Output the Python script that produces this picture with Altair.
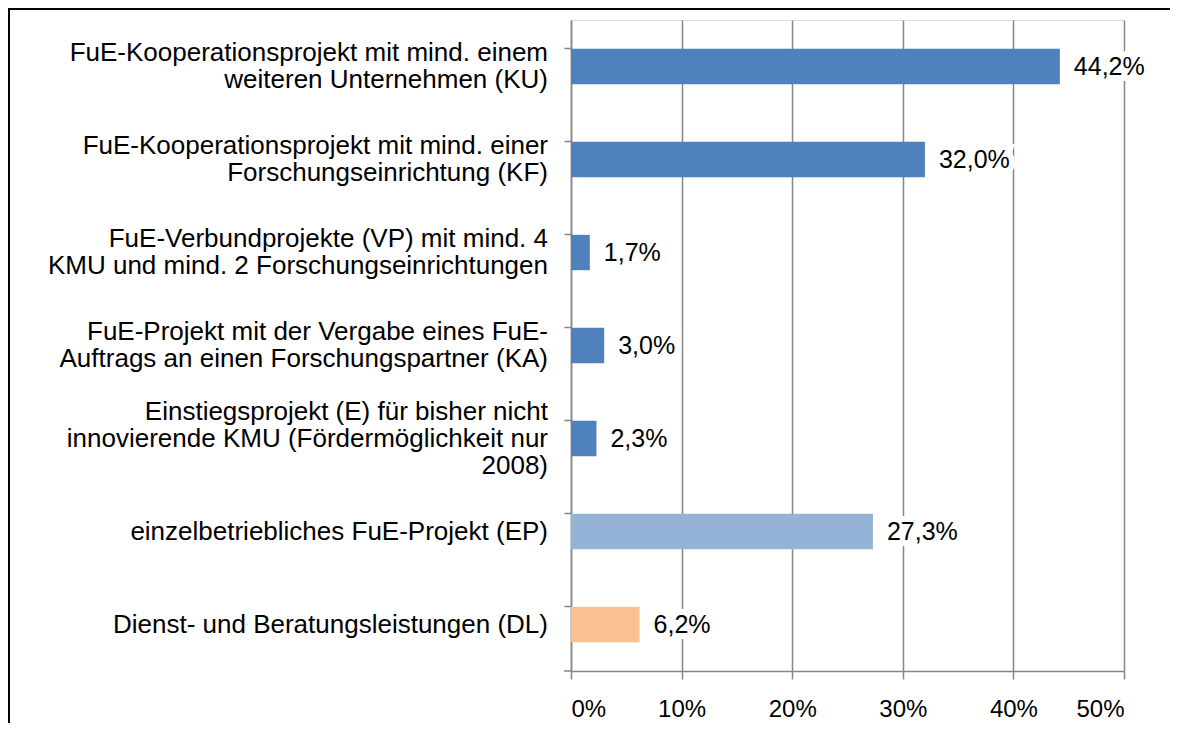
import altair as alt
import pandas as pd

categories = [
    "FuE-Kooperationsprojekt mit mind. einem\nweiteren Unternehmen (KU)",
    "FuE-Kooperationsprojekt mit mind. einer\nForschungseinrichtung (KF)",
    "FuE-Verbundprojekte (VP) mit mind. 4\nKMU und mind. 2 Forschungseinrichtungen",
    "FuE-Projekt mit der Vergabe eines FuE-\nAuftrags an einen Forschungspartner (KA)",
    "Einstiegsprojekt (E) für bisher nicht\ninnovierende KMU (Fördermöglichkeit nur\n2008)",
    "einzelbetriebliches FuE-Projekt (EP)",
    "Dienst- und Beratungsleistungen (DL)",
]
values = [44.2, 32.0, 1.7, 3.0, 2.3, 27.3, 6.2]
groups = ["Kooperation", "Kooperation", "Kooperation", "Kooperation", "Kooperation", "Einzel", "Dienst"]
group_names = ["Kooperation", "Einzel", "Dienst"]
group_colors = ["#4F81BD", "#95B3D7", "#FAC090"]
x_ticks = [0, 10, 20, 30, 40, 50]

df = pd.DataFrame({
    "cat": categories,
    "value": values,
    "group": groups,
    "label": [f"{v:.1f}%".replace(".", ",") for v in values],
})

W, H = 553, 651
FONT = "Liberation Sans"
GRAY = "#868686"
LH = 27
PAD_INNER, PAD_OUTER = 0.62, 0.31
n_cat = len(categories)
step = H / (n_cat - PAD_INNER + 2 * PAD_OUTER)
half_band = step * (1 - PAD_INNER) / 2

y_enc = alt.Y(
    "cat:N",
    sort=categories,
    scale=alt.Scale(paddingInner=PAD_INNER, paddingOuter=PAD_OUTER),
    axis=alt.Axis(
        title=None,
        labels=False,
        tickSize=7,
        tickColor=GRAY,
        tickWidth=1.5,
        bandPosition=0,
        domainColor=GRAY,
        domainWidth=1.5,
        grid=False,
    ),
)

x_enc = alt.X(
    "value:Q",
    scale=alt.Scale(domain=[0, 50], nice=False),
    axis=alt.Axis(
        title=None,
        values=x_ticks,
        labelExpr="datum.value + '%'",
        labelFont=FONT,
        labelFontSize=24,
        labelColor="black",
        labelPadding=18,
        tickSize=8,
        tickColor=GRAY,
        tickWidth=1.5,
        domainColor=GRAY,
        domainWidth=1.5,
        grid=True,
        gridColor=GRAY,
        gridWidth=1.5,
    ),
)

base = alt.Chart(df)

bars = base.mark_bar().encode(
    x=x_enc,
    y=y_enc,
    color=alt.Color("group:N", scale=alt.Scale(domain=group_names, range=group_colors), legend=None),
)

halo = base.mark_text(
    align="left", baseline="middle", dx=14, font=FONT, fontSize=25,
    stroke="white", strokeWidth=12, fill="white",
).encode(x="value:Q", y=alt.Y("cat:N", sort=categories), text="label:N")

labels = base.mark_text(
    align="left", baseline="middle", dx=14, font=FONT, fontSize=25, color="black",
).encode(x="value:Q", y=alt.Y("cat:N", sort=categories), text="label:N")

cat_labels = base.transform_calculate(
    off=f"{half_band} - (length(split(datum.cat, '\\n')) - 1) * {LH / 2}"
).mark_text(
    align="right", baseline="middle", font=FONT, fontSize=26, color="black",
    lineBreak="\n", lineHeight=LH,
).encode(
    x=alt.value(-23),
    y=alt.Y("cat:N", sort=categories),
    yOffset=alt.YOffset("off:Q", scale=None),
    text="cat:N",
)

bottom_tick = alt.Chart(alt.Data(values=[{}])).mark_rule(color=GRAY, strokeWidth=1.5).encode(
    x=alt.value(-7), x2=alt.value(0), y=alt.value(H)
)

frame = alt.Chart(alt.Data(values=[{}])).mark_rect(
    fillOpacity=0, stroke="black", strokeWidth=2, clip=False
).encode(
    x=alt.value(-562), x2=alt.value(1200), y=alt.value(-11), y2=alt.value(1200)
)

chart = alt.layer(bars, halo, labels, cat_labels, bottom_tick, frame).properties(
    width=W,
    height=H,
    padding={"left": 563, "top": 12, "right": 46, "bottom": 52},
    autosize=alt.AutoSizeParams(type="none"),
).configure_view(stroke=None).configure(background="white")

chart.save("out.html", embed_options={"renderer": "svg", "actions": False})
